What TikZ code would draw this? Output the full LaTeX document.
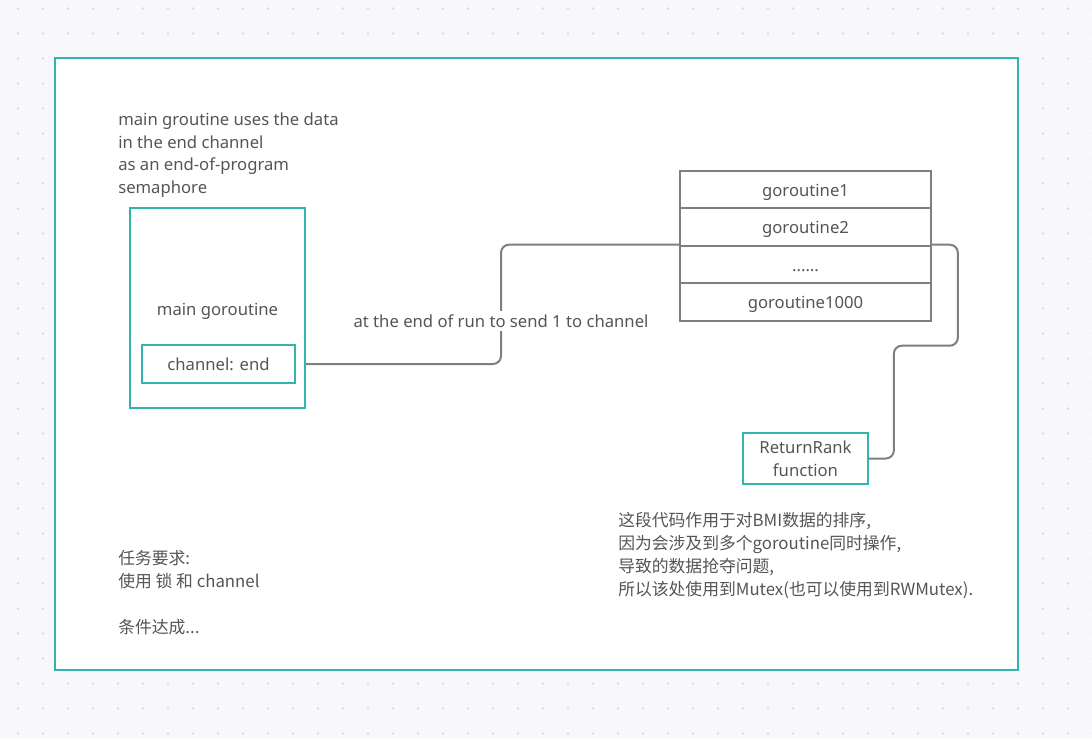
\documentclass[tikz,border=0pt]{standalone}
\usepackage{fontspec}
\setmainfont{Noto Sans}
\newfontfamily\cjk{Noto Sans CJK SC}
\usetikzlibrary{positioning}
\definecolor{teal1}{HTML}{33B5AF}
\definecolor{linegray}{HTML}{7F7F7F}
\definecolor{textgray}{HTML}{555555}
\definecolor{bggray}{HTML}{F8F8FA}
\definecolor{dotgray}{HTML}{DCDCE2}
\tikzset{
  tbox/.style={rectangle, draw=teal1, line width=1.5pt, fill=white, align=center, inner sep=2pt},
  gbox/.style={rectangle, draw=linegray, line width=1.5pt, fill=white, minimum width=188pt, minimum height=28.1pt, inner sep=0pt, text height=10pt, text depth=0pt},
  note/.style={align=left, inner sep=0pt, anchor=west},
  conn/.style={draw=linegray, line width=1.5pt, rounded corners=6pt}
}

\begin{document}
\begin{tikzpicture}[x=0.75pt, y=-0.75pt, every node/.style={text=textgray, font=\fontsize{12.5}{16.9}\selectfont}]
    % canvas and dots
    \useasboundingbox (0,0) rectangle (1092,739);
    \fill[bggray] (0,0) rectangle (1092,739);
    \foreach \i in {0,...,43}
      \foreach \j in {0,...,29}
        \fill[dotgray] (18+25*\i, 8.5+25*\j) circle (1.3);
    \draw[teal1, line width=1.5pt, fill=white] (55,58) rectangle (1018,670);

    % left side
    \node[note] (top) at (118,155) {main groutine uses the data\\in the end channel\\as an end-of-program\\semaphore};
    \node[tbox, minimum width=131.25pt, minimum height=150pt] (mg) at (217.5,308) {};
    \node (mgl) at (217.5,311) {main goroutine};
    \node[tbox, minimum width=114.75pt, minimum height=28.5pt] (ch) at (218.5,364) {channel: end};

    % goroutine stack
    \node[gbox] (g1) at (805.5,189.5) {goroutine1};
    \node[gbox, below=-1.5pt of g1] (g2) {goroutine2};
    \node[gbox, below=-1.5pt of g2] (g3) {......};
    \node[gbox, below=-1.5pt of g3] (g4) {goroutine1000};

    \node[tbox, minimum width=93.75pt, minimum height=38.25pt] (rr) at (805.5,458.5) {ReturnRank\\function};

    % connectors
    \coordinate (bend) at (501,300);
    \draw[conn] (ch.east -| mg.east) -| (bend) |- (g3.north west);
    \node[fill=white, inner sep=3pt] (lbl) at (501,321) {at the end of run to send 1 to channel};
    \draw[conn] (g3.north east) -- ++(26,0) -- ++(0,101) -- ++(-64,0) |- (rr.east);

    % notes
    \node[note, font=\cjk\fontsize{12.6}{17.2}\selectfont] (task) at (118,593) {任务要求:\\使用 锁 和 channel\\\\条件达成...};
    \node[note, font=\cjk\fontsize{12.6}{17.2}\selectfont] (desc) at (618,555.5) {这段代码作用于对BMI数据的排序,\\因为会涉及到多个goroutine同时操作,\\导致的数据抢夺问题,\\所以该处使用到Mutex(也可以使用到RWMutex).};
\end{tikzpicture}
\end{document}
